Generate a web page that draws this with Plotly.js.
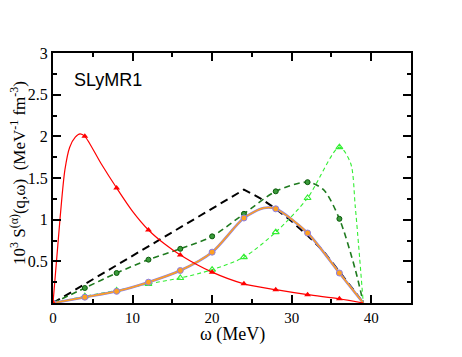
<!DOCTYPE html>
<html>
<head>
<meta charset="utf-8">
<script src="https://cdn.plot.ly/plotly-3.0.1.min.js"></script>
<style>html,body{margin:0;padding:0;background:#fff;}#chart{width:462px;height:357px;}</style>
</head>
<body>
<div id="chart"></div>
<script>
// marker abscissae (MeV)
const markX = [0, 4, 8, 12, 16, 20, 24, 28, 32, 36];

// red solid, filled triangles
const redCurveX = [0, 0.9, 1.5, 2.1, 2.8, 3.4, 4, 6, 8, 10, 12, 14, 16, 20, 24, 28, 32, 36, 39];
const redCurveY = [0, 1.03, 1.6, 1.87, 1.99, 2.03, 2.0, 1.68, 1.38, 1.1, 0.876, 0.71, 0.576, 0.37, 0.23, 0.16, 0.1, 0.05, 0];
const redMarkY = [0, 2.0, 1.38, 0.876, 0.576, 0.37, 0.23, 0.16, 0.1, 0.05];

// black dashed, no markers
const blackX = [0, 24, 26, 28, 30, 32, 34, 36, 38, 39];
const blackY = [0, 1.36, 1.26, 1.13, 0.98, 0.81, 0.62, 0.38, 0.13, 0];

// dark green dashed, circles
const dgCurveX = [0, 4, 8, 12, 16, 20, 24, 28, 32, 34, 36, 38, 39];
const dgCurveY = [0, 0.18, 0.36, 0.52, 0.65, 0.8, 1.07, 1.34, 1.45, 1.36, 1.01, 0.4, 0];
const dgMarkY = [0, 0.18, 0.36, 0.52, 0.65, 0.8, 1.07, 1.34, 1.45, 1.01];

// light green short-dashed, open triangles
const lgCurveX = [0, 4, 8, 12, 16, 20, 24, 28, 32, 36, 37.4, 38, 39];
const lgCurveY = [0, 0.08, 0.15, 0.23, 0.3, 0.4, 0.55, 0.85, 1.26, 1.87, 1.68, 1.15, 0];
const lgMarkY = [0, 0.08, 0.15, 0.23, 0.3, 0.4, 0.55, 0.85, 1.26, 1.87];

// orange / violet solid, circles
const orCurveX = [0, 4, 8, 12, 16, 20, 24, 26.5, 28, 32, 36, 39];
const orCurveY = [0, 0.07, 0.14, 0.25, 0.39, 0.61, 1.02, 1.14, 1.13, 0.84, 0.36, 0];
const orMarkY = [0, 0.07, 0.14, 0.25, 0.39, 0.61, 1.02, 1.13, 0.84, 0.36];

const xTicks = [0, 10, 20, 30, 40];
const yTicks = [0, 0.5, 1, 1.5, 2, 2.5, 3];
const yTickText = ['', '0.5', '1', '1.5', '2', '2.5', '3'];

const SERIF = 'Liberation Serif';
const SANS = 'Liberation Sans';

const traces = [
  {x: blackX, y: blackY, mode: 'lines', line: {color: '#000', width: 2, dash: '8px,5px'}},
  {x: dgCurveX, y: dgCurveY, mode: 'lines', line: {color: '#1f7a1f', width: 1.6, dash: '6px,4px', shape: 'spline', smoothing: 0.8}},
  {x: markX, y: dgMarkY, mode: 'markers', marker: {symbol: 'circle', size: 5, color: '#3a9a3a', line: {color: '#0b5a0b', width: 1}}},
  {x: lgCurveX, y: lgCurveY, mode: 'lines', line: {color: '#33ee33', width: 1.1, dash: '4px,3px', shape: 'spline', smoothing: 0.8}},
  {x: markX, y: lgMarkY, mode: 'markers', marker: {symbol: 'triangle-up-open', size: 6, color: '#33ee33', line: {color: '#33ee33', width: 1.2}}},
  {x: orCurveX, y: orCurveY, mode: 'lines', line: {color: '#8a7fe8', width: 2.6, shape: 'spline', smoothing: 0.8}},
  {x: orCurveX, y: orCurveY, mode: 'lines', line: {color: '#ffa020', width: 1.5, shape: 'spline', smoothing: 0.8}},
  {x: markX, y: orMarkY, mode: 'markers', marker: {symbol: 'circle', size: 6, color: '#ffa020', line: {color: '#8a7fe8', width: 1}}},
  {x: redCurveX, y: redCurveY, mode: 'lines', line: {color: '#ff0000', width: 1.2, shape: 'spline', smoothing: 0.8}},
  {x: markX, y: redMarkY, mode: 'markers', marker: {symbol: 'triangle-up', size: 6, color: '#ff0000'}}
];

const layout = {
  width: 462, height: 357,
  margin: {l: 53, r: 51, t: 53, b: 54},
  paper_bgcolor: '#fff', plot_bgcolor: '#fff',
  font: {family: SERIF, color: '#000'},
  showlegend: false,
  xaxis: {
    range: [0, 45], tickmode: 'array', tickvals: xTicks, ticktext: xTicks.map(String),
    ticks: 'inside', ticklen: 8, tickwidth: 2, tickcolor: '#000',
    minor: {tickmode: 'linear', tick0: 0, dtick: 5, ticks: 'inside', ticklen: 4, tickwidth: 2, tickcolor: '#000', showgrid: false},
    showline: true, linecolor: '#000', linewidth: 2, mirror: 'ticks',
    showgrid: false, zeroline: false, tickfont: {family: SERIF, size: 15, color: '#000'}
  },
  yaxis: {
    range: [0, 3], tickmode: 'array', tickvals: yTicks, ticktext: yTickText,
    ticks: 'inside', ticklen: 8, tickwidth: 2, tickcolor: '#000',
    minor: {tickmode: 'linear', tick0: 0, dtick: 0.25, ticks: 'inside', ticklen: 4, tickwidth: 2, tickcolor: '#000', showgrid: false},
    showline: true, linecolor: '#000', linewidth: 2, mirror: 'ticks',
    showgrid: false, zeroline: false, tickfont: {family: SERIF, size: 16, color: '#000'}
  },
  annotations: [
    {x: 2.4, y: 2.68, xref: 'x', yref: 'y', xanchor: 'left', yanchor: 'middle', showarrow: false,
     text: 'SLyMR1', font: {family: SANS, size: 18, color: '#000'}},
    {x: 0.5, y: -0.125, xref: 'paper', yref: 'paper', xanchor: 'center', yanchor: 'middle', showarrow: false,
     text: 'ω (MeV)', font: {family: SERIF, size: 18, color: '#000'}},
    {x: -0.098, y: 0.52, xref: 'paper', yref: 'paper', xanchor: 'center', yanchor: 'middle', showarrow: false, textangle: -90,
     text: '10<sup>3</sup> S<sup>(α)</sup>(q,ω)&#160;&#160;(MeV<sup>-1</sup> fm<sup>-3</sup>)', font: {family: SERIF, size: 17, color: '#000'}}
  ]
};

Plotly.newPlot('chart', traces, layout, {staticPlot: true, displayModeBar: false});
</script>
</body>
</html>
